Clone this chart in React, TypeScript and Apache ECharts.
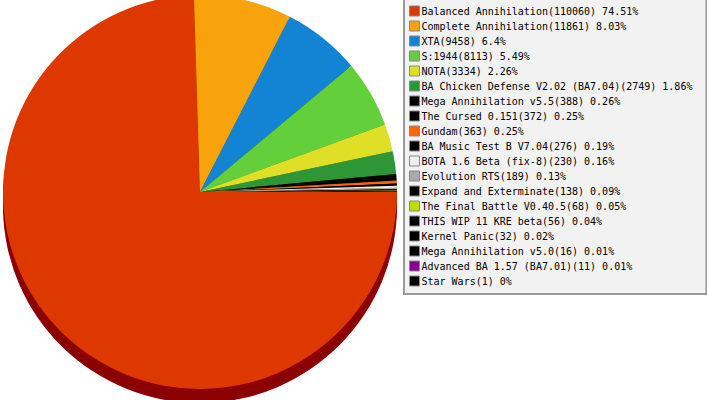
import React, { useEffect, useRef } from "react";
import * as echarts from "echarts";

const names = [
  "Balanced Annihilation",
  "Complete Annihilation",
  "XTA",
  "S:1944",
  "NOTA",
  "BA Chicken Defense V2.02 (BA7.04)",
  "Mega Annihilation v5.5",
  "The Cursed 0.151",
  "Gundam",
  "BA Music Test B V7.04",
  "BOTA 1.6 Beta (fix-8)",
  "Evolution RTS",
  "Expand and Exterminate",
  "The Final Battle V0.40.5",
  "THIS WIP 11 KRE beta",
  "Kernel Panic",
  "Mega Annihilation v5.0",
  "Advanced BA 1.57 (BA7.01)",
  "Star Wars",
];
const values = [110060, 11861, 9458, 8113, 3334, 2749, 388, 372, 363, 276, 230, 189, 138, 68, 56, 32, 16, 11, 1];
const colors = [
  "#dc3800", "#f9a30c", "#1384d4", "#63cf3a", "#dfdf28", "#2e9634", "#000000", "#000000", "#ff6600",
  "#000000", "#eeeeee", "#aaaaaa", "#000000", "#bbdd00", "#000000", "#000000", "#000000", "#880088", "#000000",
];
const sideColors = [
  "#8b0000", "#9a6000", "#0b4f80", "#3a7a22", "#868618", "#1b5a1f", "#000000", "#000000", "#993d00",
  "#000000", "#8e8e8e", "#666666", "#000000", "#708400", "#000000", "#000000", "#000000", "#520052", "#000000",
];

const total = values.reduce((a, b) => a + b, 0);
const pct = (v: number) => String(parseFloat(((v / total) * 100).toFixed(2)));

export default function App() {
  const ref = useRef<HTMLDivElement>(null);
  useEffect(() => {
    if (!ref.current) return;
    const chart = echarts.init(ref.current, undefined, { renderer: "svg" });
    const cx = 200;
    const cy = 192;
    const r = 197;
    const depth = 14;
    const base = {
      type: "pie" as const,
      radius: r,
      startAngle: 0,
      clockwise: true,
      label: { show: false },
      labelLine: { show: false },
      emphasis: { disabled: true },
      silent: true,
      avoidLabelOverlap: false,
    };
    const sideSeries = [depth, Math.round(depth * 2 / 3), Math.round(depth / 3)].map((d) => ({
      ...base,
      name: "side" + d,
      center: [cx, cy + d],
      data: names.map((n, i) => ({ name: n, value: values[i], itemStyle: { color: sideColors[i] } })),
    }));
    chart.setOption({
      animation: false,
      textStyle: { fontFamily: "DejaVu Sans Mono" },
      legend: {
        orient: "vertical",
        left: 404,
        top: -2,
        width: 300,
        padding: [7, 14, 7, 5],
        backgroundColor: "#f2f2f2",
        borderColor: "#999999",
        borderWidth: 2,
        borderRadius: 0,
        itemWidth: 10,
        itemHeight: 10,
        itemGap: 3,
        icon: "rect",
        selectedMode: false,
        data: names.map((n, i) => ({
          name: n,
          itemStyle: { color: colors[i], borderColor: "#888888", borderWidth: 1 },
        })),
        textStyle: {
          fontFamily: "DejaVu Sans Mono",
          fontSize: 10,
          lineHeight: 12,
          color: "#000000",
          padding: [0, 0, 0, -3],
        },
        formatter: (name: string) => {
          const i = names.indexOf(name);
          return `${name}(${values[i]}) ${pct(values[i])}%`;
        },
      },
      series: [
        ...sideSeries,
        {
          ...base,
          name: "Mods",
          center: [cx, cy],
          data: names.map((n, i) => ({ name: n, value: values[i], itemStyle: { color: colors[i] } })),
        },
      ],
    });
    return () => chart.dispose();
  }, []);
  return (
    <div
      ref={ref}
      style={{ position: "fixed", left: 0, top: 0, width: 707, height: 400, background: "#ffffff" }}
    />
  );
}
